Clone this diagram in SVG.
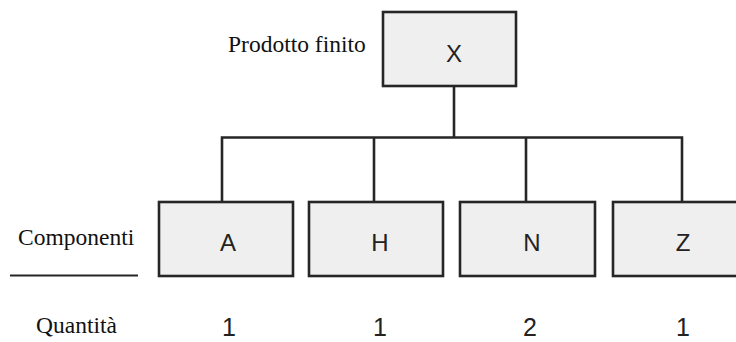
<svg xmlns="http://www.w3.org/2000/svg" width="736" height="342" viewBox="0 0 736 342">
  <style>
    .box { fill: #efefef; stroke: #262626; stroke-width: 2.6; }
    .wire { fill: none; stroke: #262626; stroke-width: 2.6; }
    .sans { font-family: "Liberation Sans", Arial, sans-serif; font-size: 24px; fill: #222; text-anchor: middle; }
    .serif { font-family: "Liberation Serif", "Times New Roman", serif; font-size: 23.5px; fill: #111; }
  </style>
  <rect width="736" height="342" fill="#ffffff"/>

  <!-- tree connectors -->
  <g id="connectors" class="wire">
    <line x1="454" y1="86" x2="454" y2="137.5"/>
    <polyline points="222,202 222,137.5 682,137.5 682,202"/>
    <line x1="374" y1="137.5" x2="374" y2="202"/>
    <line x1="526" y1="137.5" x2="526" y2="202"/>
  </g>

  <!-- finished product -->
  <g id="node-X">
    <rect class="box" x="383" y="12" width="133" height="74"/>
    <text class="sans" x="454" y="62">X</text>
  </g>
  <text class="serif" x="228" y="52">Prodotto finito</text>

  <!-- components -->
  <g id="node-A">
    <rect class="box" x="159" y="202" width="134" height="74"/>
    <text class="sans" x="228" y="251">A</text>
  </g>
  <g id="node-H">
    <rect class="box" x="309" y="202" width="134" height="74"/>
    <text class="sans" x="380" y="251">H</text>
  </g>
  <g id="node-N">
    <rect class="box" x="460" y="202" width="135" height="74"/>
    <text class="sans" x="532" y="251">N</text>
  </g>
  <g id="node-Z">
    <rect class="box" x="613" y="202" width="134" height="74"/>
    <text class="sans" x="683" y="251">Z</text>
  </g>

  <!-- row labels -->
  <text class="serif" x="18" y="245">Componenti</text>
  <line x1="10" y1="275.5" x2="138" y2="275.5" stroke="#262626" stroke-width="2"/>
  <text class="serif" x="36" y="333">Quantità</text>

  <!-- quantities -->
  <g class="sans" style="font-size:25px">
    <text x="229" y="336">1</text>
    <text x="380" y="336">1</text>
    <text x="530" y="336">2</text>
    <text x="683" y="336">1</text>
  </g>
</svg>
